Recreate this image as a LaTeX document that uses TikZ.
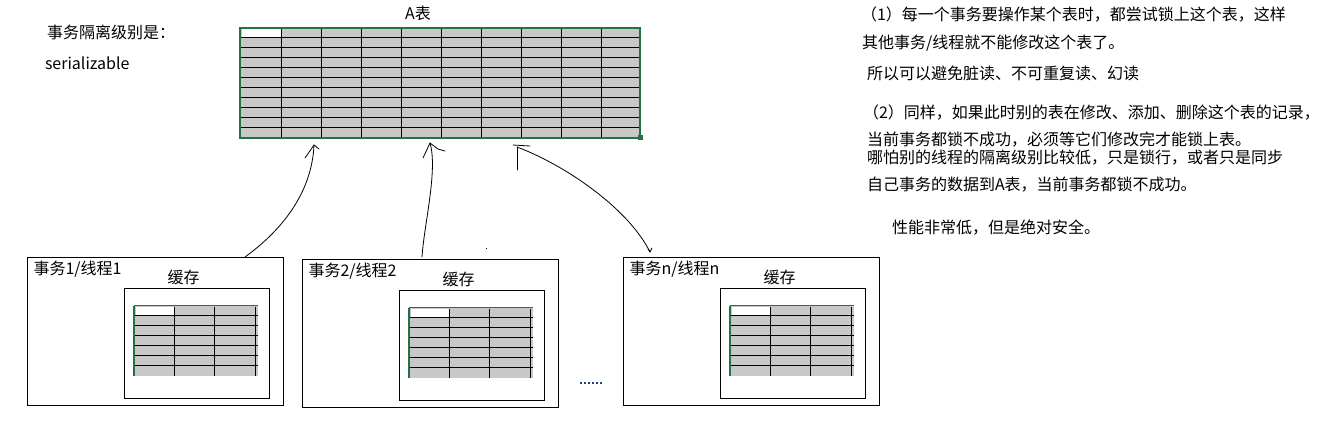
\documentclass[tikz,border=0pt]{standalone}
\usepackage{fontspec}
\usetikzlibrary{calc}
\setmainfont{Noto Sans CJK SC}
\definecolor{cellgrey}{HTML}{C8C8C8}
\definecolor{xlgreen}{HTML}{217346}
\definecolor{dotblue}{HTML}{1F3F7F}
\tikzset{
  txt/.style={inner sep=0pt, outer sep=0pt, font=\fontsize{16}{19}\selectfont},
  rtxt/.style={txt, anchor=west},
  boxline/.style={draw=black, line width=1pt, inner sep=0pt, outer sep=0pt, fill=none},
  gridline/.style={draw=black, line width=1.1pt},
  hand/.style={draw=black, line width=0.8pt, line cap=round, line join=round},
  pics/txbox/.style={code={
    \node[boxline, minimum width=256pt, minimum height=148pt, anchor=north west] (-box) at (0,0) {};
    \node[txt, anchor=west] (-label) at (6,12) {#1};
    \node[txt] (-cache) at (156,20) {缓存};
    \node[boxline, minimum width=145pt, minimum height=110pt, anchor=north west] (-inner) at (97,31) {};
    \fill[cellgrey] (107,48) rectangle (230,118);
    \fill[white] (108,49) rectangle (147,58);
    \foreach \yy in {58,68,...,108} {\draw[gridline] (107,\yy) -- (230,\yy);}
    \foreach \xx in {147,187,228} {\draw[gridline] (\xx,49) -- (\xx,118);}
    \draw[xlgreen, line width=1pt] (106,48) -- (230,48);
    \draw[xlgreen, line width=2pt] (106,48) -- (106,118);
  }}
}
\begin{document}
\begin{tikzpicture}[x=1pt,y=-1pt]
\useasboundingbox[fill=white] (0,0) rectangle (1336,429);

% left header texts
\node[rtxt] (iso) at (47,32) {事务隔离级别是：};
\node[rtxt] (ser) at (45,63) {serializable};

% table A
\node[txt] (atitle) at (418,13) {A表};
\fill[cellgrey] (241,28) rectangle (640,137);
\fill[white] (242,29) rectangle (281,37);
\foreach \yy in {37.5,47.5,...,127.5} {\draw[gridline] (241,\yy) -- (640,\yy);}
\foreach \xx in {281.5,321.5,...,601.5} {\draw[gridline] (\xx,29) -- (\xx,137);}
\node[draw=xlgreen, line width=2pt, inner sep=0pt, outer sep=0pt,
      minimum width=400pt, minimum height=110pt, anchor=north west] (tableA) at (240,27.5) {};
\fill[xlgreen] (637.5,134.5) rectangle (642.5,139.5);

% transaction boxes
\pic (t1) at (27.5,257.5) {txbox={事务1/线程1}};
\pic (t2) at (302.5,259.5) {txbox={事务2/线程2}};
\pic (t3) at (623.5,257.5) {txbox={事务n/线程n}};

% dots
\foreach \i in {0,...,5} {\fill[dotblue] (580+4*\i,382) rectangle (581.6+4*\i,383.8);}
\fill[black] (485.5,247.5) rectangle (487,249);

% arrow coordinates
\coordinate (a1s) at (245,257);
\coordinate (a1e) at (314,145);
\coordinate (a2s) at (422,257);
\coordinate (a2e) at (430,143);
\coordinate (a3s) at (517,147);
\coordinate (a3e) at (650,252);

% arrow 1
\draw[hand] (a1s) .. controls (285,228) and (312,190) .. (a1e);
\draw[hand] ($(a1e)+(-9,13)$) -- (a1e) -- ($(a1e)+(5,4)$);
% arrow 2
\draw[hand] (a2s) .. controls (424,225) and (438,170) .. (a2e);
\draw[hand] ($(a2e)+(-7,15)$) -- (a2e) -- ($(a2e)+(8,6)$) -- ($(a2e)+(15,8)$);
% arrow 3
\draw[hand] (a3s) .. controls (565,165) and (628,208) .. (a3e);
\draw[hand] (513,145) -- (530,146);
\draw[hand] (a3s) -- (517,170);
\draw[hand] ($(a3e)+(-2,-3)$) -- (a3e) -- ($(a3e)+(2,-4)$);

% right-hand notes
\node[rtxt] (n1) at (861,15) {（1）每一个事务要操作某个表时，都尝试锁上这个表，这样};
\node[rtxt] (n2) at (862,43) {其他事务/线程就不能修改这个表了。};
\node[rtxt] (n3) at (867,73) {所以可以避免脏读、不可重复读、幻读};
\node[rtxt] (n4) at (863,113) {（2）同样，如果此时别的表在修改、添加、删除这个表的记录，};
\node[rtxt] (n5) at (867,140) {当前事务都锁不成功，必须等它们修改完才能锁上表。};
\node[rtxt] (n6) at (867,158) {哪怕别的线程的隔离级别比较低，只是锁行，或者只是同步};
\node[rtxt] (n7) at (867,185) {自己事务的数据到A表，当前事务都锁不成功。};
\node[rtxt] (n8) at (892,228) {性能非常低，但是绝对安全。};
\end{tikzpicture}
\end{document}
